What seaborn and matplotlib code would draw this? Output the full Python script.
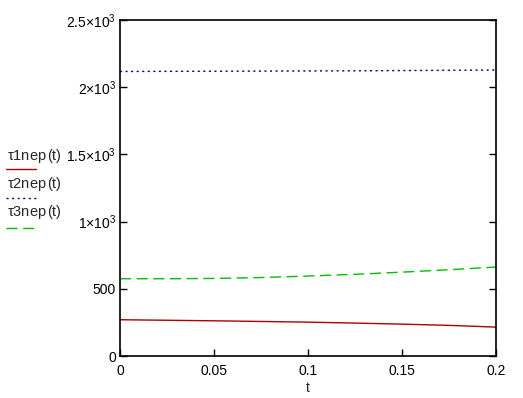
import numpy as np
import pandas as pd
import matplotlib.pyplot as plt
import seaborn as sns
from matplotlib.lines import Line2D

t = [0.0, 0.025, 0.05, 0.075, 0.1, 0.125, 0.15, 0.175, 0.2]
tau1 = [270, 266, 262, 257, 252, 245, 237, 228, 215]
tau2 = [2117, 2118, 2119, 2120, 2121, 2122, 2124, 2126, 2128]
tau3 = [575, 575, 577, 584, 595, 608, 624, 642, 662]

yticks = [0, 500, 1000, 1500, 2000, 2500]
ylabels = ['0', '500', r'$\mathregular{1{\times}10^3}$', r'$\mathregular{1.5{\times}10^3}$',
           r'$\mathregular{2{\times}10^3}$', r'$\mathregular{2.5{\times}10^3}$']
xticks = [0, 0.05, 0.1, 0.15, 0.2]
xlabels = ['0', '0.05', '0.1', '0.15', '0.2']

sns.set_style('white')
plt.rcParams['font.family'] = ['Liberation Sans', 'DejaVu Sans']
plt.rcParams['mathtext.fontset'] = 'custom'
plt.rcParams['mathtext.rm'] = 'Liberation Sans'
plt.rcParams['mathtext.it'] = 'Liberation Sans'

df = pd.DataFrame({'t': t, 'tau1': tau1, 'tau2': tau2, 'tau3': tau3})

fig = plt.figure(figsize=(5.23, 3.98), dpi=100)
ax = fig.add_axes([0.2294, 0.1055, 0.719, 0.8442])

red = '#b00000'
blue = '#000080'
green = '#00c000'

sns.lineplot(data=df, x='t', y='tau1', ax=ax, color=red, lw=1)
sns.lineplot(data=df, x='t', y='tau2', ax=ax, color=blue, lw=1, linestyle=(0, (1.5, 2.5)))
sns.lineplot(data=df, x='t', y='tau3', ax=ax, color=green, lw=1, linestyle=(0, (8, 4)))

ax.set_xlim(0, 0.2)
ax.set_ylim(0, 2500)
ax.set_xticks(xticks)
ax.set_xticklabels(xlabels)
ax.set_yticks(yticks)
ax.set_yticklabels(ylabels)
ax.tick_params(axis='both', direction='in', length=5, width=1, labelsize=10, colors='black',
               right=True, left=True, bottom=True, top=False)
ax.tick_params(axis='x', pad=6)
ax.tick_params(axis='y', pad=3)
ax.set_xlabel('t', fontsize=10, labelpad=2)
ax.set_ylabel('')
for s in ax.spines.values():
    s.set_color('black')
    s.set_linewidth(1.2)

# legend drawn to the left, Mathcad-style
entries = [('1nep', red, '-', 160, 169),
           ('2nep', blue, (0, (1.5, 2.5)), 188, 198),
           ('3nep', green, (0, (8, 4)), 216, 228)]
W, H = 523, 398
for sub, c, ls, ty, ly in entries:
    txt = fig.text(7 / W, 1 - ty / H, r'$\mathregular{\tau}$' + sub, fontsize=10.5, va='baseline', ha='left')
    ax.annotate('(t)', xy=(1, 0), xycoords=txt, xytext=(0.5, 3.5), textcoords='offset points',
                fontsize=10.5, va='baseline', ha='left', annotation_clip=False)
    fig.add_artist(Line2D([6 / W, 36 / W], [1 - ly / H, 1 - ly / H], color=c, lw=1, linestyle=ls,
                          transform=fig.transFigure))

fig.savefig('out.png', dpi=100)
